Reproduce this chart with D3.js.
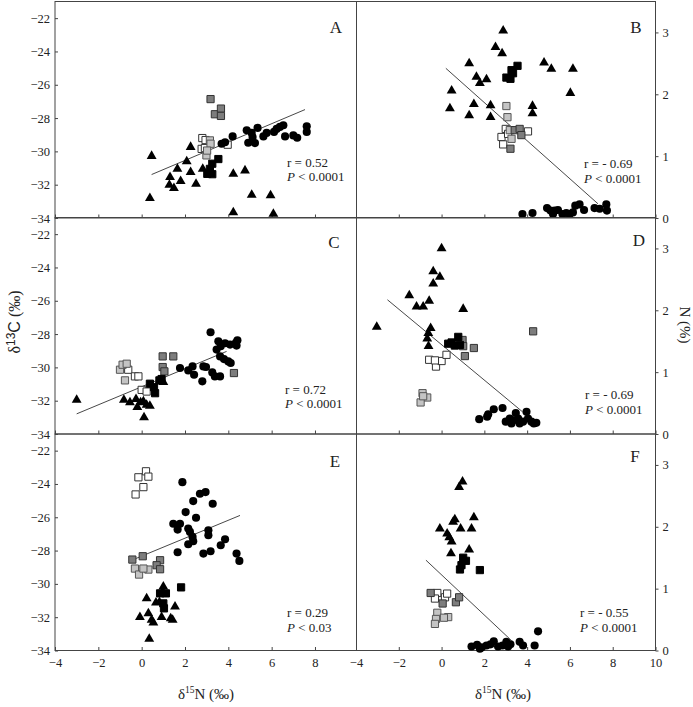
<!DOCTYPE html>
<html><head><meta charset="utf-8">
<script src="https://cdn.jsdelivr.net/npm/d3@7"></script>
<style>
body{margin:0;background:#fff}
svg{display:block}
text{font-family:"Liberation Serif","Times New Roman",serif;fill:#222}
</style>
</head><body><svg id="c" width="693" height="707"></svg>
<script>
// ---------- data ----------
const xTicksLeft = [-4,-2,0,2,4,6,8];
const xTicksRight = [-4,-2,0,2,4,6,8,10];
const yTicksC = [-34,-32,-30,-28,-26,-24,-22];
const yTicksN = [0,1,2,3];
const panelLetters = ["A","B","C","D","E","F"];
const rLabels = ["r = 0.52","r = - 0.69","r = 0.72","r = - 0.69","r = 0.29","r = - 0.55"];
const pLabels = ["< 0.0001","< 0.0001","< 0.0001","< 0.0001","< 0.03","< 0.0001"];

// Panel A: δ13C vs δ15N
const aCirc = [[3.69,-29.54],[3.85,-29.45],[4.2,-29.1],[4.85,-28.73],[4.92,-29.48],[5.08,-28.89],[5.12,-29.14],[5.23,-29.5],[5.35,-28.59],[5.62,-29.1],[5.77,-28.89],[6.11,-28.83],[6.23,-28.65],[6.38,-28.53],[6.54,-28.43],[6.62,-29.1],[7.0,-29.04],[7.18,-29.18],[7.62,-28.49],[7.62,-28.83]];
const aTri = [[0.46,-30.28],[2.26,-29.74],[2.08,-30.6],[1.65,-31.05],[1.31,-31.55],[1.8,-31.79],[2.26,-31.25],[1.28,-32.01],[1.49,-32.21],[2.51,-31.95],[0.38,-32.81],[2.82,-31.05],[4.23,-31.35],[4.77,-31.15],[5.08,-32.61],[5.95,-32.65],[4.23,-33.66],[6.08,-33.76]];
const aBlk = [[3.54,-30.46],[3.26,-30.74],[3.15,-31.05],[3.03,-31.35],[3.26,-31.37]];
const aDark = [[3.18,-26.86],[3.38,-27.77],[3.66,-27.43],[3.66,-27.87]];
const aLight = [[3.15,-29.34],[3.18,-29.54],[2.99,-30.24],[3.02,-29.95]];
const aWhite = [[2.8,-29.2],[2.95,-29.32],[2.77,-29.85],[2.92,-29.8],[3.97,-29.6]];
const aFit = [[0.46,-31.39],[7.54,-27.49]];

// Panel B: N% vs δ15N
const bCirc = [[3.78,0.065],[4.25,0.08],[4.93,0.16],[5.09,0.12],[5.21,0.065],[5.29,0.12],[5.44,0.13],[5.65,0.065],[5.83,0.08],[5.99,0.065],[6.14,0.09],[6.25,0.2],[6.45,0.22],[6.66,0.13],[7.15,0.16],[7.39,0.15],[7.7,0.22],[7.73,0.12]];
const bTri = [[2.88,3.03],[2.52,2.76],[2.83,2.66],[1.29,2.5],[1.63,2.28],[1.79,2.18],[2.1,2.24],[0.47,2.06],[0.39,1.77],[1.51,1.84],[1.29,1.66],[2.29,1.82],[2.29,1.63],[4.25,1.81],[4.25,1.69],[4.79,2.51],[5.13,2.41],[6.14,2.41],[6.02,2.02]];
const bBlk = [[3.03,2.27],[3.22,2.25],[3.27,2.39],[3.34,2.34],[3.55,2.46]];
const bDark = [[3.42,1.42],[3.65,1.44],[3.73,1.34],[3.22,1.12]];
const bLight = [[3.03,1.81],[3.08,1.63],[3.27,1.28],[3.19,1.42]];
const bWhite = [[3.0,1.44],[2.8,1.31],[2.88,1.19],[4.04,1.4],[3.11,1.36]];
const bFit = [[0.2,2.42],[7.31,0.23]];

// Panel C
const cCirc = [[1.77,-30.04],[2.15,-30.18],[2.35,-29.94],[2.42,-30.44],[2.85,-29.94],[2.97,-29.98],[2.8,-30.84],[3.18,-27.89],[3.26,-30.3],[3.38,-30.54],[3.62,-30.54],[3.46,-28.93],[3.54,-28.43],[3.65,-28.73],[3.62,-29.34],[3.8,-29.5],[4.0,-29.64],[4.11,-29.74],[3.85,-28.55],[4.08,-28.63],[4.35,-28.53],[4.42,-28.37],[4.38,-28.69]];
const cTri = [[-3.0,-31.95],[-0.82,-31.95],[-0.54,-32.11],[-0.26,-31.91],[-0.2,-32.39],[-0.05,-32.1],[0.08,-32.05],[0.23,-32.25],[0.38,-32.31],[0.11,-33.0],[0.85,-30.78],[1.0,-30.88]];
const cBlk = [[0.38,-30.98],[0.57,-31.19],[0.62,-31.55],[0.82,-30.78],[0.92,-30.7]];
const cDark = [[0.97,-29.34],[1.46,-29.34],[0.97,-29.98],[1.05,-30.24],[4.26,-30.34]];
const cLight = [[-1.0,-30.14],[-0.88,-29.84],[-0.69,-29.78],[-0.77,-30.78]];
const cWhite = [[-0.62,-30.14],[-0.31,-30.54],[-0.15,-30.54],[0.0,-31.35],[0.23,-31.45]];
const cFit = [[-3.0,-32.79],[3.92,-29.04]];

// Panel D
const dCirc = [[1.76,0.24],[2.13,0.28],[2.18,0.32],[2.44,0.4],[2.85,0.42],[3.0,0.2],[3.19,0.25],[3.27,0.17],[3.34,0.22],[3.47,0.34],[3.58,0.25],[3.65,0.17],[3.81,0.2],[3.97,0.36],[4.04,0.25],[4.2,0.2],[4.31,0.17],[4.43,0.18]];
const dTri = [[-3.03,1.73],[-1.51,2.24],[-1.17,2.06],[-0.86,2.06],[-0.58,2.15],[-0.39,2.63],[-0.08,2.54],[-0.39,2.43],[0,3.0],[1.01,2.02],[-0.51,1.71],[-0.62,1.63],[-0.67,1.54],[-0.61,1.42]];
const dBlk = [[0.31,1.46],[0.47,1.48],[0.62,1.43],[0.78,1.57],[0.86,1.44]];
const dDark = [[0.98,1.52],[1.01,1.42],[1.51,1.39],[1.09,1.26],[4.28,1.66]];
const dLight = [[-0.89,0.66],[-0.67,0.59],[-0.98,0.51],[-0.86,0.61]];
const dWhite = [[-0.58,1.2],[-0.26,1.09],[0,1.18],[0.23,1.28],[-0.31,1.19]];
const dFit = [[-2.53,2.17],[3.78,0.36]];

// Panel E
const eCirc = [[1.88,-23.89],[2.03,-25.69],[1.46,-26.39],[1.66,-26.74],[1.77,-26.39],[2.15,-26.68],[2.23,-26.88],[2.35,-27.18],[2.38,-27.44],[2.15,-27.62],[1.66,-28.1],[2.51,-26.03],[2.38,-25.03],[2.69,-24.59],[2.95,-24.49],[3.28,-25.19],[3.08,-26.78],[3.08,-27.08],[2.85,-28.18],[3.18,-28.04],[3.65,-27.68],[3.85,-27.32],[4.38,-28.18],[4.51,-28.62]];
const eTri = [[0.23,-30.87],[1.0,-30.17],[0.97,-30.47],[0.66,-31.13],[0.82,-31.1],[1.54,-31.37],[-0.08,-32.0],[0.31,-31.77],[0.46,-32.17],[0.54,-32.33],[0.92,-32.0],[1.34,-32.07],[1.43,-32.17],[0.35,-33.3]];
const eBlk = [[1.82,-30.21],[1.12,-30.57],[0.85,-30.57],[1.0,-31.17],[1.03,-31.47]];
const eDark = [[-0.43,-28.54],[0.05,-28.34],[0.85,-28.58],[0.69,-28.88],[0.85,-29.12]];
const eLight = [[-0.31,-29.08],[-0.12,-29.44],[0.31,-29.14],[0.08,-29.08]];
const eWhite = [[-0.15,-23.6],[0.2,-23.24],[0.31,-23.56],[0.08,-24.19],[-0.28,-24.63]];
const eFit = [[-0.46,-28.58],[4.54,-25.89]];

// Panel F
const fCirc = [[1.4,0.065],[1.66,0.09],[1.79,0.03],[1.87,0.05],[2.1,0.08],[2.29,0.1],[2.44,0.15],[2.64,0.065],[2.85,0.08],[3.03,0.14],[3.11,0.065],[3.22,0.1],[3.65,0.14],[3.81,0.08],[4.35,0.08],[4.51,0.31]];
const fTri = [[0.98,2.73],[0.82,2.64],[-0.08,1.97],[0.26,1.89],[0.36,1.83],[0.47,1.76],[0.62,2.12],[0.54,2.08],[0.89,1.97],[1.4,1.97],[1.51,2.15],[1.29,1.63],[0.44,1.57]];
const fBlk = [[1.01,1.5],[1.14,1.45],[0.93,1.38],[0.86,1.31],[1.79,1.3]];
const fDark = [[-0.51,0.93],[0.05,0.76],[0.67,0.78],[0.82,0.86]];
const fLight = [[-0.2,0.61],[0.31,0.54],[0.11,0.53],[-0.26,0.51],[-0.31,0.43]];
const fWhite = [[-0.2,0.93],[-0.31,0.84],[0.16,0.86],[0.26,0.92]];
const fFit = [[-0.73,1.46],[3.27,0.16]];

// ---------- layout ----------
const svg = d3.select("#c");
const rowsTop = [1.5, 217.5, 434];
const rowH = 216.5;
const colX = [[55,356.5],[356.5,655.5]];
const statPos = [[287,167,181],[584,168,183],[285,394,408],[585,399,414],[287,617,632],[580,617,632]];
const letterPos = [[336,33],[636,33],[334,248],[639,246],[335,467],[635,462]];

const seriesStyle = {
  tri:{type:d3.symbolTriangle,size:42,fill:"#000",stroke:"none"},
  blk:{type:d3.symbolSquare,size:52,fill:"#000",stroke:"#000"},
  dark:{type:d3.symbolSquare,size:52,fill:"#7d7d7d",stroke:"#333"},
  light:{type:d3.symbolSquare,size:52,fill:"#c4c4c4",stroke:"#555"},
  white:{type:d3.symbolSquare,size:52,fill:"#fff",stroke:"#333"},
  circ:{type:d3.symbolCircle,size:52,fill:"#000",stroke:"none"}
};

const panelData = [
  {circ:aCirc,tri:aTri,blk:aBlk,dark:aDark,light:aLight,white:aWhite,fit:aFit},
  {circ:bCirc,tri:bTri,blk:bBlk,dark:bDark,light:bLight,white:bWhite,fit:bFit},
  {circ:cCirc,tri:cTri,blk:cBlk,dark:cDark,light:cLight,white:cWhite,fit:cFit},
  {circ:dCirc,tri:dTri,blk:dBlk,dark:dDark,light:dLight,white:dWhite,fit:dFit},
  {circ:eCirc,tri:eTri,blk:eBlk,dark:eDark,light:eLight,white:eWhite,fit:eFit},
  {circ:fCirc,tri:fTri,blk:fBlk,dark:fDark,light:fLight,white:fWhite,fit:fFit}
];

const frameColor = "#444";

panelData.forEach((pd,i)=>{
  const col = i%2, row = Math.floor(i/2);
  const top = rowsTop[row], bot = top + rowH;
  const [x0,x1] = colX[col];
  const x = col===0 ? d3.scaleLinear().domain([-4,10]).range([55,358.3])
                    : d3.scaleLinear().domain([-4,10]).range([356,655.5]);
  const y = col===0 ? d3.scaleLinear().domain([-34,-21]).range([bot,top])
                    : d3.scaleLinear().domain([0,3.5]).range([bot,top]);
  const g = svg.append("g");

  // bottom axis (inward ticks)
  const xa = d3.axisBottom(x).tickValues(col===0?xTicksLeft:xTicksRight)
      .tickFormat(d3.format("d"))
      .tickSizeInner(-3.5).tickSizeOuter(0).tickPadding(8);
  const gx = g.append("g").attr("transform",`translate(0,${bot})`).call(xa);
  gx.select(".domain").remove();
  gx.selectAll("line").attr("stroke",frameColor);
  if(row<2) gx.selectAll("text").remove();
  else gx.selectAll("text").style("font-size","12.5px").attr("fill","#222");

  if(col===0){
    const ya = d3.axisLeft(y).tickValues(yTicksC).tickFormat(d3.format("d"))
      .tickSizeInner(-3).tickSizeOuter(0).tickPadding(5);
    const gy = g.append("g").attr("transform",`translate(${x0},0)`).call(ya);
    gy.select(".domain").remove();
    gy.selectAll("line").attr("stroke",frameColor);
    gy.selectAll("text").style("font-size","12.5px").attr("fill","#222");
  } else {
    const ya = d3.axisRight(y).tickValues(yTicksN).tickFormat(d3.format("d"))
      .tickSizeInner(3).tickSizeOuter(0).tickPadding(4);
    const gy = g.append("g").attr("transform",`translate(${x1},0)`).call(ya);
    gy.select(".domain").remove();
    gy.selectAll("line").attr("stroke",frameColor);
    gy.selectAll("text").style("font-size","12.5px").attr("fill","#222");
  }

  // frame
  g.append("rect").attr("x",x0).attr("y",top).attr("width",x1-x0).attr("height",rowH)
    .attr("fill","none").attr("stroke",frameColor).attr("stroke-width",1);

  // regression line
  g.append("line")
    .attr("x1",x(pd.fit[0][0])).attr("y1",y(pd.fit[0][1]))
    .attr("x2",x(pd.fit[1][0])).attr("y2",y(pd.fit[1][1]))
    .attr("stroke","#333").attr("stroke-width",0.9);

  // points
  ["tri","white","light","dark","blk","circ"].forEach(k=>{
    const st = seriesStyle[k];
    g.append("g").selectAll("path").data(pd[k]).join("path")
      .attr("d",d3.symbol().type(st.type).size(st.size))
      .attr("transform",d=>`translate(${x(d[0])},${y(d[1])})`)
      .attr("fill",st.fill).attr("stroke",st.stroke).attr("stroke-width",1);
  });

  // letter
  g.append("text").attr("x",letterPos[i][0]).attr("y",letterPos[i][1])
    .attr("text-anchor","middle").style("font-size","17px").text(panelLetters[i]);

  // stats
  const sp = statPos[i];
  g.append("text").attr("x",sp[0]).attr("y",sp[1]).style("font-size","13px").text(rLabels[i]);
  const pt = g.append("text").attr("x",sp[0]).attr("y",sp[2]).style("font-size","13px");
  pt.append("tspan").style("font-style","italic").text("P");
  pt.append("tspan").text(" " + pLabels[i]);
});

// axis titles
const yt = svg.append("text").attr("transform","translate(20,322) rotate(-90)")
  .attr("text-anchor","middle").style("font-size","16px");
yt.append("tspan").text("δ");
yt.append("tspan").attr("dy","-5").style("font-size","12px").style("font-family","Liberation Sans, Arial, sans-serif").text("13");
yt.append("tspan").attr("dy","5").style("font-family","Liberation Sans, Arial, sans-serif").text("C");
yt.append("tspan").text(" (‰)");

svg.append("text").attr("transform","translate(680,325) rotate(90)")
  .attr("text-anchor","middle").style("font-size","15px").text("N (%)");

[206,503].forEach(cx=>{
  const t = svg.append("text").attr("x",cx).attr("y",699).attr("text-anchor","middle").style("font-size","15px");
  t.append("tspan").text("δ");
  t.append("tspan").attr("dy","-6").style("font-size","9.5px").text("15");
  t.append("tspan").attr("dy","6").text("N (‰)");
});
</script></body></html>
